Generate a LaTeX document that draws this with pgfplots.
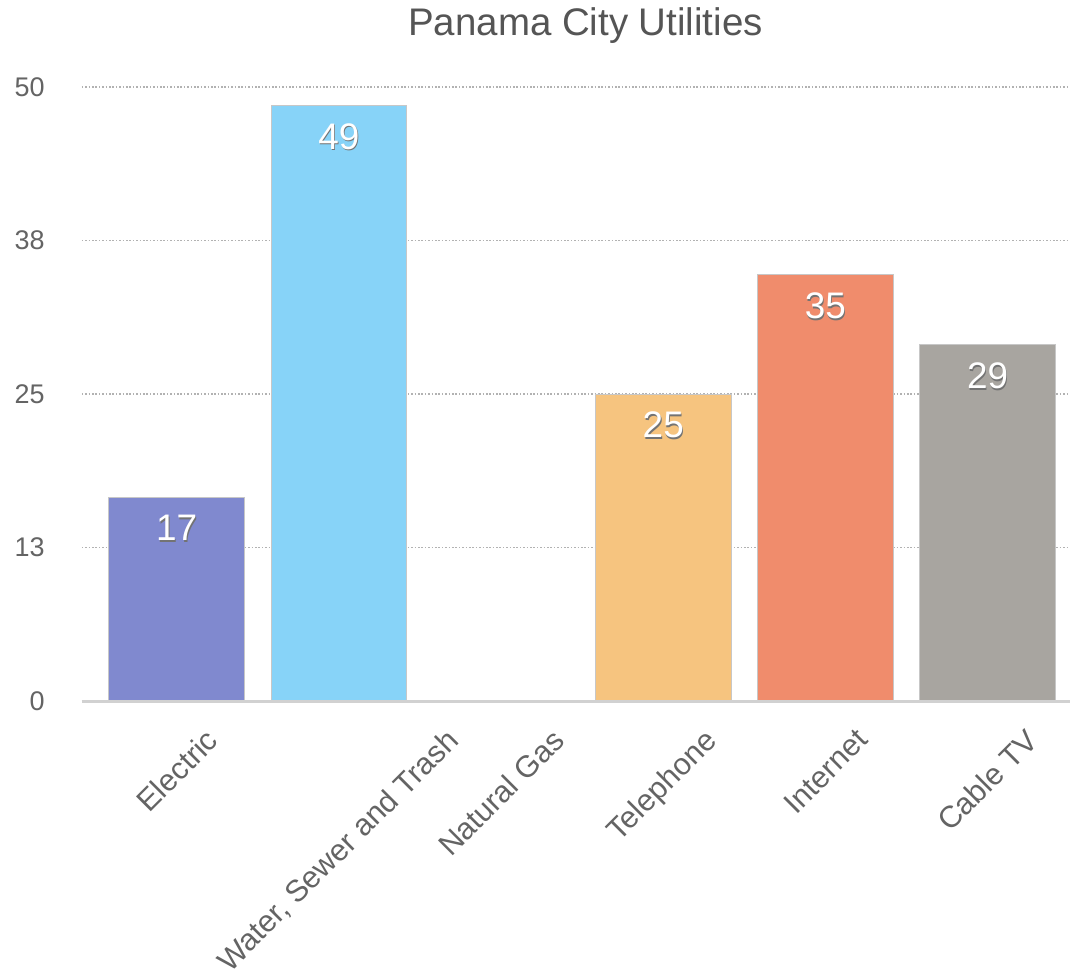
\documentclass[border=0pt]{standalone}
\usepackage{fontspec}
\setmainfont{Liberation Sans}
\usepackage{graphicx}
\usepackage{pgfplots}
\pgfplotsset{compat=1.18}
\definecolor{cElec}{RGB}{128,137,207}
\definecolor{cWater}{RGB}{135,211,248}
\definecolor{cTel}{RGB}{246,196,127}
\definecolor{cNet}{RGB}{240,140,108}
\definecolor{cCable}{RGB}{168,165,160}
\definecolor{tickgray}{RGB}{100,100,100}
\definecolor{titlegray}{RGB}{85,85,85}
\newcommand\shadowtext[1]{\rlap{\textcolor{black!55}{\kern0.8pt\raisebox{-1.8pt}{#1}}}#1}
\begin{document}
\begin{tikzpicture}
\begin{axis}[
  scale only axis, width=989pt, height=615pt,
  xmin=-0.585, xmax=5.505, ymin=0, ymax=50,
  ybar, bar width=0.837,
  axis line style={draw=none},
  major tick length=0pt,
  ytick={0,12.5,25,37.5,50}, yticklabels={0,13,25,38,50},
  xtick={0,1,2,3,4,5},
  xticklabels={{\rotatebox{45}{Electric}},{\rotatebox{45}{Water, Sewer and Trash}},{\rotatebox{45}{Natural Gas}},{\rotatebox{45}{Telephone}},{\rotatebox{45}{Internet}},{\rotatebox{45}{Cable TV}}},
  ymajorgrids,
  grid style={draw=black!30, line width=1.6pt, dash pattern=on 1.6pt off 1.8pt},
  yticklabel style={font=\fontsize{27}{29}\selectfont, text=tickgray, anchor=east, inner sep=0pt, xshift=-37pt},
  xticklabel style={font=\fontsize{30.5}{32}\selectfont, text=tickgray, anchor=north, inner sep=0pt, yshift=-26pt},
  title={Panama City Utilities},
  title style={font=\fontsize{38.5}{40}\selectfont, text=titlegray, at={(0.51,1)}, anchor=base, yshift=45pt},
  nodes near coords={\shadowtext{\pgfmathprintnumber[fixed,precision=0,assume math mode=true]{\pgfplotspointmeta}}},
  every node near coord/.append style={font=\fontsize{37}{40}\selectfont, text=white, anchor=center, yshift=-32pt},
  clip=false,
]
\addplot[bar shift=0pt, fill=cElec, draw=black!22, line width=0.8pt] coordinates {(0,16.6)};
\addplot[bar shift=0pt, fill=cWater, draw=black!22, line width=0.8pt] coordinates {(1,48.5)};
\addplot[bar shift=0pt, fill=cTel, draw=black!22, line width=0.8pt] coordinates {(3,25.0)};
\addplot[bar shift=0pt, fill=cNet, draw=black!22, line width=0.8pt] coordinates {(4,34.7)};
\addplot[bar shift=0pt, fill=cCable, draw=black!22, line width=0.8pt] coordinates {(5,29.0)};
\draw[line width=3pt, draw=black!18] (axis cs:-0.585,0) -- (axis cs:5.505,0);
\path (rel axis cs:0,0) ++(-82pt,-275pt);
\path (rel axis cs:1,1) ++(0pt,87pt);
\end{axis}
\end{tikzpicture}
\end{document}
